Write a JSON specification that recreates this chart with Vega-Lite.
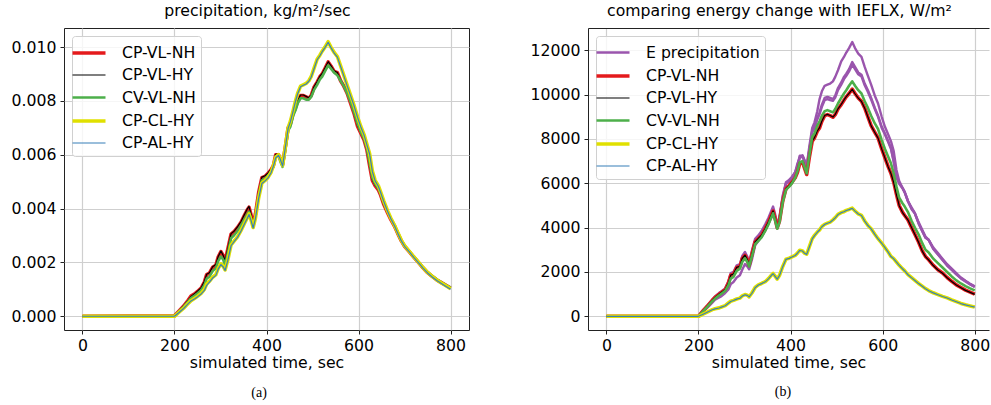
{
"$schema": "https://vega.github.io/schema/vega-lite/v6.json",
"padding": {"left": 10, "top": 2, "right": 0, "bottom": 2},
"spacing": 60,
"resolve": {"scale": {"color": "independent", "strokeWidth": "independent"}, "legend": {"color": "independent", "strokeWidth": "independent"}},
"config": {
  "font": "DejaVu Sans",
  "view": {"stroke": "#222", "strokeWidth": 1},
  "axis": {"labelFont": "DejaVu Sans", "labelFontSize": 15.7, "labelColor": "#000", "titleFont": "DejaVu Sans", "titleFontSize": 15.7, "titleFontWeight": "normal", "titleColor": "#000", "tickColor": "#222", "tickSize": 4, "labelPadding": 4, "titlePadding": 3, "domain": false, "gridColor": "#cfcfcf", "gridWidth": 1.2, "gridOpacity": 1},
  "title": {"font": "DejaVu Sans", "fontSize": 15.7, "fontWeight": "normal", "color": "#000", "offset": 8},
  "legend": {"orient": "top-left", "offset": 8, "padding": 5, "fillColor": "rgba(255,255,255,0.8)", "strokeColor": "#d0d0d0", "cornerRadius": 3, "labelFont": "DejaVu Sans", "labelFontSize": 15.7, "labelColor": "#000", "symbolType": "M-1.65,0H1.65", "symbolSize": 400, "labelOffset": 21, "rowPadding": 3, "title": null}
},
"datasets": {
  "labels": [{"key":"p1","label":"E precipitation"},{"key":"p2","label":"E precipitation"},{"key":"p3","label":"E precipitation"},{"key":"r","label":"CP-VL-NH"},{"key":"k","label":"CP-VL-HY"},{"key":"g","label":"CV-VL-NH"},{"key":"y","label":"CP-CL-HY"},{"key":"b","label":"CP-AL-HY"}],
  "left": [
{"t":0,"r":0,"k":0,"g":0,"y":0,"b":0},
{"t":200,"r":0.00002,"k":0.00002,"g":0.00001,"y":0,"b":0},
{"t":210,"r":0.0002,"k":0.00021,"g":0.00018,"y":0.00015,"b":0.00014},
{"t":220,"r":0.00038,"k":0.00039,"g":0.00035,"y":0.0003,"b":0.00029},
{"t":230,"r":0.0006,"k":0.0006,"g":0.00055,"y":0.00048,"b":0.00047},
{"t":236,"r":0.00075,"k":0.00074,"g":0.00068,"y":0.00058,"b":0.00057},
{"t":245,"r":0.00085,"k":0.00086,"g":0.00078,"y":0.00068,"b":0.00066},
{"t":250,"r":0.00092,"k":0.00093,"g":0.00085,"y":0.00074,"b":0.00072},
{"t":258,"r":0.00105,"k":0.00106,"g":0.00097,"y":0.00085,"b":0.00083},
{"t":265,"r":0.00127,"k":0.0013,"g":0.00115,"y":0.001,"b":0.00096},
{"t":270,"r":0.00155,"k":0.00156,"g":0.0014,"y":0.0012,"b":0.00115},
{"t":276,"r":0.0016,"k":0.00162,"g":0.00147,"y":0.0013,"b":0.00127},
{"t":283,"r":0.00182,"k":0.00184,"g":0.00168,"y":0.00145,"b":0.00142},
{"t":290,"r":0.0019,"k":0.00192,"g":0.00178,"y":0.00155,"b":0.00152},
{"t":295,"r":0.0022,"k":0.00222,"g":0.00205,"y":0.00178,"b":0.00175},
{"t":301,"r":0.0024,"k":0.00242,"g":0.00222,"y":0.00195,"b":0.00192},
{"t":306,"r":0.00225,"k":0.00226,"g":0.0021,"y":0.00185,"b":0.00183},
{"t":310,"r":0.00205,"k":0.00207,"g":0.0019,"y":0.00172,"b":0.0017},
{"t":316,"r":0.0025,"k":0.00252,"g":0.00235,"y":0.0021,"b":0.00208},
{"t":323,"r":0.00305,"k":0.00307,"g":0.0029,"y":0.00265,"b":0.00262},
{"t":330,"r":0.00315,"k":0.00317,"g":0.00302,"y":0.0028,"b":0.00278},
{"t":337,"r":0.0033,"k":0.00332,"g":0.00317,"y":0.00295,"b":0.00293},
{"t":345,"r":0.0035,"k":0.00353,"g":0.00338,"y":0.0032,"b":0.00318},
{"t":352,"r":0.00375,"k":0.00378,"g":0.0036,"y":0.00345,"b":0.00343},
{"t":358,"r":0.00395,"k":0.00398,"g":0.00378,"y":0.00365,"b":0.00363},
{"t":362,"r":0.00405,"k":0.00408,"g":0.00388,"y":0.0038,"b":0.00378},
{"t":366,"r":0.0038,"k":0.00382,"g":0.00365,"y":0.0036,"b":0.00358},
{"t":371,"r":0.0034,"k":0.00342,"g":0.0033,"y":0.0033,"b":0.00328},
{"t":376,"r":0.0038,"k":0.00382,"g":0.0037,"y":0.00365,"b":0.00363},
{"t":383,"r":0.0046,"k":0.00462,"g":0.0045,"y":0.0044,"b":0.00438},
{"t":390,"r":0.00515,"k":0.00517,"g":0.00505,"y":0.00495,"b":0.00493},
{"t":397,"r":0.0052,"k":0.00522,"g":0.00512,"y":0.00505,"b":0.00503},
{"t":403,"r":0.0053,"k":0.00532,"g":0.00522,"y":0.00515,"b":0.00513},
{"t":410,"r":0.00545,"k":0.00547,"g":0.00538,"y":0.00535,"b":0.00533},
{"t":415,"r":0.0056,"k":0.00562,"g":0.00555,"y":0.0056,"b":0.00558},
{"t":420,"r":0.006,"k":0.00602,"g":0.00595,"y":0.0059,"b":0.00588},
{"t":426,"r":0.006,"k":0.00602,"g":0.00598,"y":0.006,"b":0.00598},
{"t":430,"r":0.00585,"k":0.00587,"g":0.00575,"y":0.00585,"b":0.00583},
{"t":435,"r":0.00565,"k":0.00567,"g":0.00555,"y":0.0056,"b":0.00558},
{"t":441,"r":0.0063,"k":0.00632,"g":0.0062,"y":0.0063,"b":0.00628},
{"t":447,"r":0.007,"k":0.00702,"g":0.0069,"y":0.007,"b":0.00698},
{"t":452,"r":0.00715,"k":0.00717,"g":0.00705,"y":0.00725,"b":0.00723},
{"t":458,"r":0.00755,"k":0.00757,"g":0.00745,"y":0.00765,"b":0.00763},
{"t":463,"r":0.00775,"k":0.00777,"g":0.00765,"y":0.008,"b":0.00798},
{"t":468,"r":0.008,"k":0.00802,"g":0.00792,"y":0.0083,"b":0.00828},
{"t":474,"r":0.0082,"k":0.00822,"g":0.0081,"y":0.00855,"b":0.00853},
{"t":480,"r":0.0082,"k":0.00822,"g":0.0081,"y":0.0086,"b":0.00858},
{"t":486,"r":0.00815,"k":0.00817,"g":0.00805,"y":0.00865,"b":0.00863},
{"t":492,"r":0.0081,"k":0.00812,"g":0.00805,"y":0.00875,"b":0.00873},
{"t":497,"r":0.0082,"k":0.00822,"g":0.00815,"y":0.0089,"b":0.00888},
{"t":503,"r":0.0085,"k":0.00852,"g":0.0084,"y":0.0092,"b":0.00918},
{"t":510,"r":0.0087,"k":0.00872,"g":0.0086,"y":0.00955,"b":0.00953},
{"t":516,"r":0.0089,"k":0.00892,"g":0.0088,"y":0.0097,"b":0.00968},
{"t":521,"r":0.009,"k":0.00902,"g":0.0089,"y":0.00985,"b":0.00983},
{"t":527,"r":0.0092,"k":0.00922,"g":0.0091,"y":0.01,"b":0.00998},
{"t":534,"r":0.00945,"k":0.00946,"g":0.00932,"y":0.0102,"b":0.01018},
{"t":540,"r":0.0093,"k":0.00931,"g":0.0092,"y":0.01,"b":0.00998},
{"t":547,"r":0.0091,"k":0.00912,"g":0.00905,"y":0.0098,"b":0.00978},
{"t":554,"r":0.00905,"k":0.00906,"g":0.00895,"y":0.00965,"b":0.00963},
{"t":561,"r":0.00875,"k":0.00877,"g":0.00875,"y":0.0093,"b":0.00928},
{"t":568,"r":0.00855,"k":0.00857,"g":0.00855,"y":0.00895,"b":0.00893},
{"t":575,"r":0.0083,"k":0.00832,"g":0.0083,"y":0.0086,"b":0.00858},
{"t":583,"r":0.0079,"k":0.00792,"g":0.00795,"y":0.0082,"b":0.00818},
{"t":590,"r":0.00755,"k":0.00757,"g":0.0076,"y":0.00785,"b":0.00783},
{"t":598,"r":0.00705,"k":0.00707,"g":0.00715,"y":0.0074,"b":0.00738},
{"t":605,"r":0.0068,"k":0.00682,"g":0.00685,"y":0.00705,"b":0.00703},
{"t":612,"r":0.00655,"k":0.00657,"g":0.0066,"y":0.00675,"b":0.00673},
{"t":618,"r":0.0062,"k":0.00622,"g":0.00625,"y":0.0064,"b":0.00638},
{"t":624,"r":0.0056,"k":0.00562,"g":0.0057,"y":0.00605,"b":0.00603},
{"t":630,"r":0.00505,"k":0.00507,"g":0.00515,"y":0.0054,"b":0.00538},
{"t":636,"r":0.00485,"k":0.00487,"g":0.00492,"y":0.00505,"b":0.00503},
{"t":643,"r":0.0047,"k":0.00472,"g":0.00475,"y":0.00485,"b":0.00483},
{"t":648,"r":0.0045,"k":0.00452,"g":0.00455,"y":0.00462,"b":0.0046},
{"t":655,"r":0.00415,"k":0.00417,"g":0.0042,"y":0.00428,"b":0.00426},
{"t":663,"r":0.00385,"k":0.00387,"g":0.0039,"y":0.00392,"b":0.0039},
{"t":670,"r":0.0036,"k":0.00362,"g":0.00365,"y":0.00365,"b":0.00363},
{"t":678,"r":0.00335,"k":0.00336,"g":0.0034,"y":0.00338,"b":0.00336},
{"t":686,"r":0.00305,"k":0.00306,"g":0.00308,"y":0.00308,"b":0.00306},
{"t":693,"r":0.0028,"k":0.00281,"g":0.00282,"y":0.00282,"b":0.0028},
{"t":700,"r":0.0026,"k":0.00261,"g":0.00262,"y":0.00262,"b":0.0026},
{"t":710,"r":0.0024,"k":0.00241,"g":0.00242,"y":0.00242,"b":0.0024},
{"t":720,"r":0.0022,"k":0.00221,"g":0.00222,"y":0.00221,"b":0.00219},
{"t":730,"r":0.002,"k":0.00201,"g":0.00202,"y":0.00201,"b":0.00199},
{"t":740,"r":0.0018,"k":0.00181,"g":0.00182,"y":0.00181,"b":0.00179},
{"t":750,"r":0.00162,"k":0.00163,"g":0.00164,"y":0.00163,"b":0.00161},
{"t":760,"r":0.00148,"k":0.00149,"g":0.0015,"y":0.00148,"b":0.00146},
{"t":770,"r":0.00135,"k":0.00136,"g":0.00137,"y":0.00135,"b":0.00133},
{"t":780,"r":0.00125,"k":0.00126,"g":0.00126,"y":0.00124,"b":0.00122},
{"t":790,"r":0.00115,"k":0.00116,"g":0.00116,"y":0.00113,"b":0.00111},
{"t":800,"r":0.00105,"k":0.00106,"g":0.00106,"y":0.00102,"b":0.001}
  ],
  "right": [
{"t":0,"p1":0,"p2":0,"p3":0,"r":0,"k":0,"g":0,"y":0,"b":0},
{"t":200,"p1":0,"p2":0,"p3":0,"r":0,"k":0,"g":0,"y":0,"b":0},
{"t":210,"p1":200,"p2":270,"p3":250,"r":250,"k":255,"g":230,"y":100,"b":95},
{"t":220,"p1":400,"p2":500,"p3":470,"r":480,"k":485,"g":450,"y":200,"b":195},
{"t":230,"p1":620,"p2":760,"p3":720,"r":720,"k":725,"g":680,"y":300,"b":295},
{"t":236,"p1":750,"p2":900,"p3":850,"r":850,"k":855,"g":800,"y":340,"b":335},
{"t":245,"p1":850,"p2":1060,"p3":1000,"r":1000,"k":1005,"g":950,"y":380,"b":375},
{"t":250,"p1":910,"p2":1130,"p3":1070,"r":1080,"k":1085,"g":1020,"y":420,"b":415},
{"t":258,"p1":1050,"p2":1260,"p3":1200,"r":1200,"k":1205,"g":1150,"y":480,"b":475},
{"t":265,"p1":1210,"p2":1580,"p3":1480,"r":1500,"k":1510,"g":1400,"y":600,"b":590},
{"t":270,"p1":1450,"p2":1950,"p3":1800,"r":1850,"k":1860,"g":1700,"y":680,"b":670},
{"t":276,"p1":1550,"p2":2000,"p3":1880,"r":1900,"k":1910,"g":1780,"y":720,"b":715},
{"t":283,"p1":1750,"p2":2300,"p3":2150,"r":2200,"k":2210,"g":2050,"y":780,"b":775},
{"t":290,"p1":1850,"p2":2350,"p3":2250,"r":2250,"k":2260,"g":2150,"y":820,"b":815},
{"t":295,"p1":2100,"p2":2720,"p3":2560,"r":2600,"k":2610,"g":2450,"y":920,"b":910},
{"t":301,"p1":2360,"p2":2900,"p3":2740,"r":2750,"k":2760,"g":2620,"y":980,"b":970},
{"t":306,"p1":2250,"p2":2700,"p3":2560,"r":2550,"k":2560,"g":2450,"y":950,"b":945},
{"t":310,"p1":2120,"p2":2420,"p3":2360,"r":2300,"k":2310,"g":2250,"y":880,"b":875},
{"t":316,"p1":2550,"p2":2950,"p3":2820,"r":2800,"k":2810,"g":2700,"y":1050,"b":1040},
{"t":323,"p1":3200,"p2":3500,"p3":3380,"r":3350,"k":3360,"g":3250,"y":1300,"b":1290},
{"t":330,"p1":3400,"p2":3650,"p3":3550,"r":3500,"k":3510,"g":3400,"y":1420,"b":1410},
{"t":337,"p1":3600,"p2":3850,"p3":3720,"r":3650,"k":3660,"g":3560,"y":1480,"b":1475},
{"t":345,"p1":3870,"p2":4150,"p3":4020,"r":3950,"k":3960,"g":3850,"y":1560,"b":1555},
{"t":352,"p1":4200,"p2":4450,"p3":4330,"r":4250,"k":4260,"g":4150,"y":1700,"b":1690},
{"t":358,"p1":4450,"p2":4750,"p3":4640,"r":4550,"k":4560,"g":4450,"y":1850,"b":1840},
{"t":362,"p1":4600,"p2":4950,"p3":4840,"r":4750,"k":4760,"g":4650,"y":1930,"b":1920},
{"t":366,"p1":4400,"p2":4650,"p3":4540,"r":4450,"k":4460,"g":4350,"y":1820,"b":1810},
{"t":371,"p1":4050,"p2":4150,"p3":4100,"r":3990,"k":4000,"g":3950,"y":1680,"b":1675},
{"t":376,"p1":4400,"p2":4500,"p3":4420,"r":4300,"k":4310,"g":4250,"y":1850,"b":1840},
{"t":383,"p1":5300,"p2":5450,"p3":5380,"r":5200,"k":5210,"g":5150,"y":2250,"b":2240},
{"t":390,"p1":6000,"p2":6050,"p3":5980,"r":5750,"k":5760,"g":5700,"y":2580,"b":2570},
{"t":397,"p1":6150,"p2":6150,"p3":6080,"r":5900,"k":5910,"g":5850,"y":2620,"b":2615},
{"t":403,"p1":6250,"p2":6300,"p3":6230,"r":6050,"k":6060,"g":6000,"y":2680,"b":2675},
{"t":410,"p1":6500,"p2":6500,"p3":6450,"r":6250,"k":6260,"g":6250,"y":2750,"b":2745},
{"t":415,"p1":6900,"p2":6800,"p3":6750,"r":6500,"k":6510,"g":6550,"y":2850,"b":2845},
{"t":420,"p1":7150,"p2":7250,"p3":7180,"r":6900,"k":6910,"g":6950,"y":2980,"b":2970},
{"t":426,"p1":7260,"p2":7250,"p3":7200,"r":6950,"k":6960,"g":7000,"y":2950,"b":2945},
{"t":430,"p1":7050,"p2":7050,"p3":6980,"r":6700,"k":6710,"g":6750,"y":2850,"b":2845},
{"t":435,"p1":6800,"p2":6750,"p3":6700,"r":6400,"k":6410,"g":6450,"y":2800,"b":2795},
{"t":441,"p1":7700,"p2":7550,"p3":7500,"r":7200,"k":7210,"g":7300,"y":3150,"b":3140},
{"t":447,"p1":8500,"p2":8350,"p3":8300,"r":7900,"k":7910,"g":8100,"y":3500,"b":3490},
{"t":452,"p1":8750,"p2":8550,"p3":8500,"r":8050,"k":8060,"g":8250,"y":3650,"b":3640},
{"t":458,"p1":9250,"p2":8950,"p3":8880,"r":8350,"k":8360,"g":8600,"y":3800,"b":3790},
{"t":463,"p1":9800,"p2":9200,"p3":9120,"r":8500,"k":8510,"g":8800,"y":3900,"b":3895},
{"t":468,"p1":10150,"p2":9550,"p3":9450,"r":8800,"k":8810,"g":9050,"y":4050,"b":4040},
{"t":474,"p1":10400,"p2":9850,"p3":9750,"r":9050,"k":9060,"g":9250,"y":4150,"b":4145},
{"t":480,"p1":10450,"p2":9900,"p3":9800,"r":9100,"k":9110,"g":9300,"y":4200,"b":4195},
{"t":486,"p1":10500,"p2":9850,"p3":9750,"r":9050,"k":9060,"g":9250,"y":4250,"b":4245},
{"t":492,"p1":10600,"p2":9800,"p3":9720,"r":8980,"k":8990,"g":9200,"y":4350,"b":4345},
{"t":497,"p1":10800,"p2":9950,"p3":9870,"r":9100,"k":9110,"g":9350,"y":4450,"b":4440},
{"t":503,"p1":11100,"p2":10300,"p3":10200,"r":9350,"k":9360,"g":9600,"y":4600,"b":4590},
{"t":510,"p1":11500,"p2":10550,"p3":10450,"r":9550,"k":9560,"g":9850,"y":4680,"b":4675},
{"t":516,"p1":11700,"p2":10800,"p3":10700,"r":9750,"k":9760,"g":10050,"y":4720,"b":4715},
{"t":521,"p1":11900,"p2":10950,"p3":10850,"r":9900,"k":9910,"g":10200,"y":4780,"b":4775},
{"t":527,"p1":12100,"p2":11150,"p3":11050,"r":10050,"k":10060,"g":10400,"y":4820,"b":4815},
{"t":534,"p1":12375,"p2":11470,"p3":11350,"r":10250,"k":10240,"g":10600,"y":4880,"b":4870},
{"t":540,"p1":12100,"p2":11250,"p3":11150,"r":10050,"k":10040,"g":10400,"y":4750,"b":4745},
{"t":547,"p1":11850,"p2":11000,"p3":10920,"r":9850,"k":9840,"g":10200,"y":4620,"b":4615},
{"t":554,"p1":11700,"p2":10900,"p3":10820,"r":9700,"k":9690,"g":10050,"y":4550,"b":4545},
{"t":561,"p1":11250,"p2":10500,"p3":10420,"r":9400,"k":9390,"g":9700,"y":4300,"b":4295},
{"t":568,"p1":10850,"p2":10200,"p3":10120,"r":9000,"k":8990,"g":9400,"y":4100,"b":4095},
{"t":575,"p1":10450,"p2":9850,"p3":9780,"r":8600,"k":8590,"g":9050,"y":3950,"b":3945},
{"t":583,"p1":9950,"p2":9400,"p3":9350,"r":8300,"k":8290,"g":8700,"y":3700,"b":3695},
{"t":590,"p1":9600,"p2":9050,"p3":9000,"r":8050,"k":8040,"g":8450,"y":3500,"b":3495},
{"t":598,"p1":9000,"p2":8550,"p3":8500,"r":7550,"k":7540,"g":7950,"y":3300,"b":3295},
{"t":605,"p1":8550,"p2":8250,"p3":8200,"r":7150,"k":7140,"g":7550,"y":3100,"b":3095},
{"t":612,"p1":8200,"p2":7900,"p3":7860,"r":6750,"k":6740,"g":7200,"y":2900,"b":2895},
{"t":618,"p1":7900,"p2":7600,"p3":7560,"r":6450,"k":6440,"g":6900,"y":2700,"b":2695},
{"t":624,"p1":7450,"p2":7000,"p3":6980,"r":6050,"k":6040,"g":6450,"y":2600,"b":2595},
{"t":630,"p1":6600,"p2":6300,"p3":6280,"r":5500,"k":5490,"g":5850,"y":2450,"b":2445},
{"t":636,"p1":6100,"p2":6000,"p3":5980,"r":5000,"k":4990,"g":5350,"y":2300,"b":2295},
{"t":643,"p1":5800,"p2":5800,"p3":5780,"r":4700,"k":4690,"g":5100,"y":2150,"b":2145},
{"t":648,"p1":5600,"p2":5600,"p3":5580,"r":4550,"k":4540,"g":4950,"y":2050,"b":2045},
{"t":655,"p1":5200,"p2":5200,"p3":5180,"r":4350,"k":4340,"g":4700,"y":1880,"b":1875},
{"t":663,"p1":4900,"p2":4850,"p3":4830,"r":4000,"k":3990,"g":4300,"y":1740,"b":1735},
{"t":670,"p1":4650,"p2":4650,"p3":4630,"r":3700,"k":3690,"g":4000,"y":1620,"b":1615},
{"t":678,"p1":4250,"p2":4200,"p3":4190,"r":3350,"k":3340,"g":3700,"y":1480,"b":1475},
{"t":686,"p1":3900,"p2":3850,"p3":3840,"r":2950,"k":2940,"g":3300,"y":1360,"b":1355},
{"t":693,"p1":3600,"p2":3550,"p3":3540,"r":2700,"k":2690,"g":3000,"y":1250,"b":1245},
{"t":700,"p1":3450,"p2":3450,"p3":3440,"r":2550,"k":2540,"g":2880,"y":1160,"b":1155},
{"t":710,"p1":3100,"p2":3050,"p3":3040,"r":2300,"k":2290,"g":2600,"y":1060,"b":1055},
{"t":720,"p1":2850,"p2":2800,"p3":2790,"r":2100,"k":2090,"g":2400,"y":980,"b":975},
{"t":730,"p1":2600,"p2":2550,"p3":2540,"r":1950,"k":1940,"g":2200,"y":900,"b":895},
{"t":740,"p1":2350,"p2":2300,"p3":2290,"r":1750,"k":1740,"g":2000,"y":830,"b":825},
{"t":750,"p1":2150,"p2":2100,"p3":2090,"r":1580,"k":1570,"g":1800,"y":740,"b":735},
{"t":760,"p1":1950,"p2":1900,"p3":1890,"r":1420,"k":1410,"g":1620,"y":660,"b":655},
{"t":770,"p1":1750,"p2":1720,"p3":1710,"r":1300,"k":1290,"g":1480,"y":580,"b":575},
{"t":780,"p1":1600,"p2":1580,"p3":1570,"r":1180,"k":1170,"g":1360,"y":520,"b":515},
{"t":790,"p1":1470,"p2":1450,"p3":1440,"r":1090,"k":1080,"g":1260,"y":470,"b":465},
{"t":800,"p1":1350,"p2":1330,"p3":1320,"r":1000,"k":990,"g":1170,"y":420,"b":415}
  ]
},
"hconcat": [
  {
    "title": {"text": "(a)", "orient": "bottom", "anchor": "middle", "dx": 19, "font": "Liberation Serif", "fontSize": 14, "fontWeight": "normal", "offset": 15},
    "vconcat": [
      {
        "width": 405, "height": 302,
        "title": {"text": "precipitation, kg/m²/sec", "dx": -9},
        "data": {"name": "left"},
        "transform": [
          {"fold": ["r", "k", "g", "y", "b"], "as": ["key", "v"]},
          {"lookup": "key", "from": {"data": {"name": "labels"}, "key": "key", "fields": ["label"]}}
        ],
        "mark": {"type": "line", "strokeJoin": "round"},
        "encoding": {
          "x": {"field": "t", "type": "quantitative", "scale": {"domain": [-40, 840], "nice": false, "zero": false}, "axis": {"values": [0, 200, 400, 600, 800], "title": "simulated time, sec"}},
          "y": {"field": "v", "type": "quantitative", "scale": {"domain": [-0.00051, 0.01071], "nice": false, "zero": false}, "axis": {"values": [0, 0.002, 0.004, 0.006, 0.008, 0.01], "format": ".3f", "title": null}},
          "color": {"field": "label", "type": "nominal", "scale": {"domain": ["CP-VL-NH", "CP-VL-HY", "CV-VL-NH", "CP-CL-HY", "CP-AL-HY"], "range": ["#e41a1c", "#000000", "#4daf4a", "#e0e000", "#377eb8"]}, "legend": {"title": null}},
          "strokeWidth": {"field": "label", "type": "nominal", "scale": {"type": "ordinal", "domain": ["CP-VL-NH", "CP-VL-HY", "CV-VL-NH", "CP-CL-HY", "CP-AL-HY"], "range": [3.6, 1.2, 2.6, 3.6, 1.2]}, "legend": {"title": null}},
          "detail": {"field": "key", "type": "nominal"}
        }
      }
    ]
  },
  {
    "title": {"text": "(b)", "orient": "bottom", "anchor": "middle", "dx": 23, "font": "Liberation Serif", "fontSize": 14, "fontWeight": "normal", "offset": 15},
    "vconcat": [
      {
        "width": 401, "height": 302,
        "view": {"stroke": null},
        "title": {"text": "comparing energy change with IEFLX, W/m²", "dx": -9},
        "data": {"name": "right"},
        "transform": [
          {"fold": ["p1", "p2", "p3", "r", "k", "g", "y", "b"], "as": ["key", "v"]},
          {"lookup": "key", "from": {"data": {"name": "labels"}, "key": "key", "fields": ["label"]}}
        ],
        "mark": {"type": "line", "strokeJoin": "round"},
        "encoding": {
          "x": {"field": "t", "type": "quantitative", "scale": {"domain": [-40, 831], "nice": false, "zero": false}, "axis": {"values": [0, 200, 400, 600, 800], "title": "simulated time, sec", "domain": true, "domainColor": "#222", "domainWidth": 1}},
          "y": {"field": "v", "type": "quantitative", "scale": {"domain": [-618, 13006], "nice": false, "zero": false}, "axis": {"values": [0, 2000, 4000, 6000, 8000, 10000, 12000, 13006], "format": "d", "labelExpr": "datum.value > 13000 ? '' : datum.label", "title": null, "domain": true, "domainColor": "#222", "domainWidth": 1, "tickColor": {"condition": {"test": "datum.value > 13000", "value": "transparent"}, "value": "#222"}, "gridColor": {"condition": {"test": "datum.value > 13000", "value": "#222"}, "value": "#cfcfcf"}, "gridWidth": {"condition": {"test": "datum.value > 13000", "value": 1}, "value": 1.2}}},
          "color": {"field": "label", "type": "nominal", "scale": {"domain": ["E precipitation", "CP-VL-NH", "CP-VL-HY", "CV-VL-NH", "CP-CL-HY", "CP-AL-HY"], "range": ["#9a55ad", "#e41a1c", "#000000", "#4daf4a", "#e0e000", "#377eb8"]}, "legend": {"title": null}},
          "strokeWidth": {"field": "label", "type": "nominal", "scale": {"type": "ordinal", "domain": ["E precipitation", "CP-VL-NH", "CP-VL-HY", "CV-VL-NH", "CP-CL-HY", "CP-AL-HY"], "range": [2.4, 3.6, 1.2, 2.6, 3.6, 1.2]}, "legend": {"title": null}},
          "detail": {"field": "key", "type": "nominal"}
        }
      }
    ]
  }
]
}
